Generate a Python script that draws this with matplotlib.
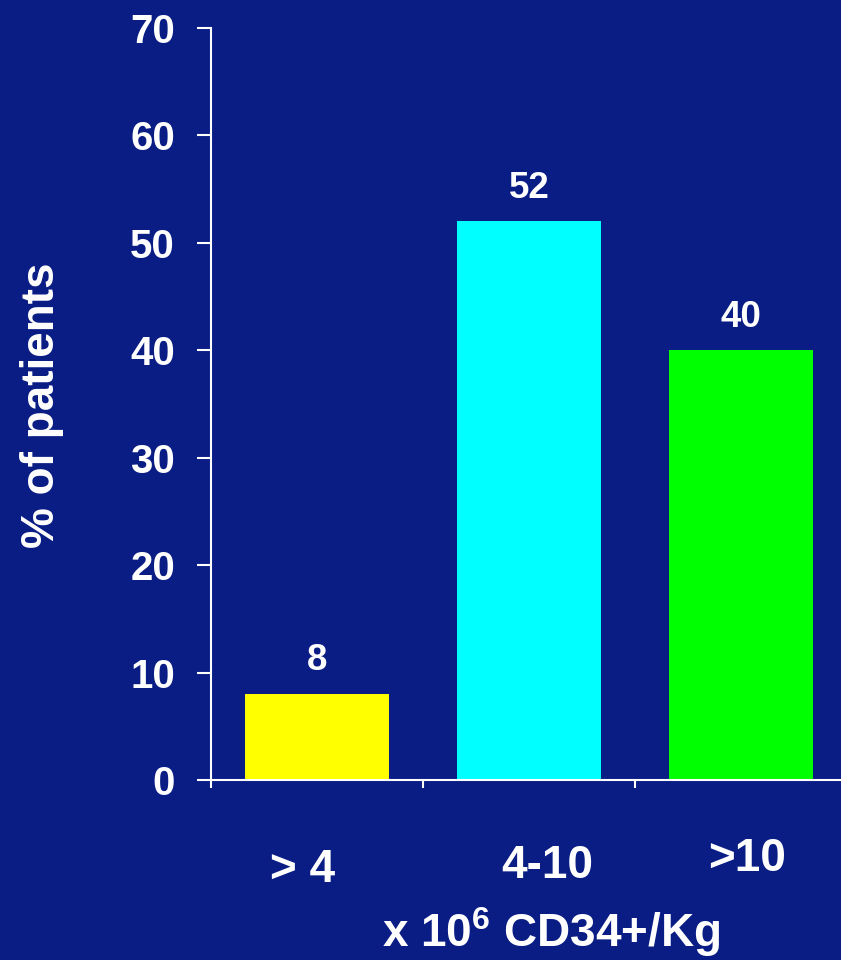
import matplotlib.pyplot as plt

plt.rcParams['font.family'] = ['Liberation Sans', 'DejaVu Sans']
plt.rcParams['font.weight'] = 'bold'
plt.rcParams['mathtext.fontset'] = 'custom'
plt.rcParams['mathtext.rm'] = 'Liberation Sans:bold'
plt.rcParams['mathtext.bf'] = 'Liberation Sans:bold'

# data
categories = ['> 4', '4-10', '>10']
values = [8, 52, 40]
bar_colors = ['#ffff00', '#00ffff', '#00ff00']
y_ticks = [0, 10, 20, 30, 40, 50, 60, 70]

bg = '#091d84'
fg = 'white'

fig = plt.figure(figsize=(8.41, 9.6), dpi=100, facecolor=bg)
ax = fig.add_axes([0.2509, 0.1875, 0.7562, 0.7833], facecolor=bg)

x = list(range(len(categories)))
ax.bar(x, values, width=0.675, color=bar_colors, zorder=2)

# value labels above bars
for xi, v in zip(x, values):
    ax.annotate(str(v), (xi, v), xytext=(0, 17), textcoords='offset points',
                ha='center', va='baseline', color=fg, fontsize=26.5, fontweight='bold')

ax.set_xlim(-0.5, 2.5)
ax.set_ylim(0, 70)
ax.set_yticks(y_ticks)
ax.set_xticks([-0.5, 0.5, 1.5, 2.5])
ax.set_xticklabels([])

for side in ['top', 'right']:
    ax.spines[side].set_visible(False)
for side in ['left', 'bottom']:
    ax.spines[side].set_color(fg)
    ax.spines[side].set_linewidth(1.5)
ax.spines['bottom'].set_zorder(3)

ax.tick_params(axis='y', direction='out', length=10, width=1.5, color=fg,
               labelcolor=fg, labelsize=29, pad=16)
ax.tick_params(axis='x', direction='out', length=5.5, width=1.5, color=fg)
for lab in ax.get_yticklabels():
    lab.set_fontweight('bold')

# category labels (slightly nudged like the original slide)
nudge_x = [-0.07, 0.085, 0.03]
label_y = [-0.12, -0.115, -0.105]
for xi, name, dx, ly in zip(x, categories, nudge_x, label_y):
    ax.text(xi + dx, ly, name, transform=ax.get_xaxis_transform(),
            ha='center', va='center', color=fg, fontsize=33, fontweight='bold')

fig.text(551 / 841, 1 - 932 / 960, r'x 10$^{6}$ CD34+/Kg', ha='center', va='center',
         color=fg, fontsize=33, fontweight='bold')
fig.text(42 / 841, 1 - 405 / 960, '% of patients', rotation=90, ha='center', va='center',
         color=fg, fontsize=33, fontweight='bold')

fig.savefig('out.png', dpi=100, facecolor=bg)
